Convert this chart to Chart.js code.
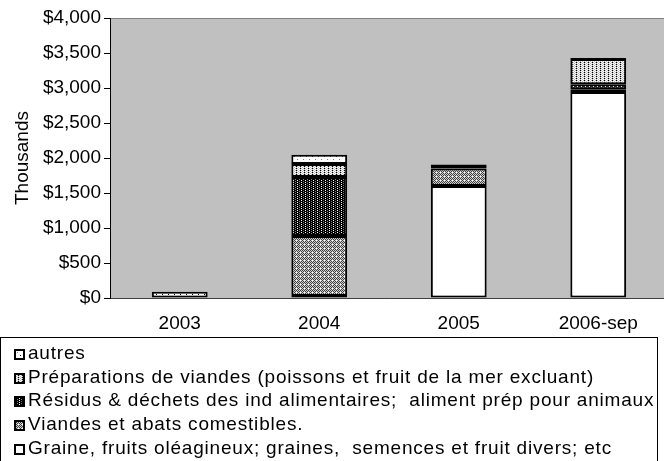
<!DOCTYPE html>
<html>
<head>
<meta charset="utf-8">
<script src="https://cdn.jsdelivr.net/npm/chart.js@4/dist/chart.umd.min.js"></script>
<style>
    body { margin: 0; background: #fff; }
    #wrap { position: relative; width: 664px; height: 461px; overflow: hidden; font-family: "Liberation Sans", Arial, sans-serif; }
    #chart { position: absolute; left: 0; top: 0; }
    #legend { position: absolute; left: 0; top: 337px; width: 658px; height: 140px; border: 1px solid #000; box-sizing: border-box; padding-top: 3px; }
    .item { height: 23.7px; line-height: 23.7px; font-size: 19px; letter-spacing: 0.8px; white-space: pre; color: #000; }
    .item canvas { vertical-align: -1px; margin-left: 13px; margin-right: 3px; }
</style>
</head>
<body>
<div id="wrap">
    <canvas id="chart" width="668" height="461"></canvas>
    <div id="legend"></div>
</div>
<script>
// categories
var years = ['2003', '2004', '2005', '2006-sep'];

// series values (thousands of $)
var graine = [0, 30, 1600, 2943];
var viandes = [0, 857, 250, 40];
var residus = [0, 843, 0, 70];
var preparations = [0, 186, 0, 360];
var autres = [90, 129, 57, 15];

var seriesNames = [
    'Graine, fruits oléagineux; graines,  semences et fruit divers; etc',
    'Viandes et abats comestibles.',
    'Résidus & déchets des ind alimentaires;  aliment prép pour animaux',
    'Préparations de viandes (poissons et fruit de la mer excluant)',
    'autres'
];

// y axis ticks
var yMax = 4000;
var yStep = 500;

// small pixel tiles to imitate the old hatch fills
function makeTile(size, fn) {
    var c = document.createElement('canvas');
    c.width = size; c.height = size;
    var g = c.getContext('2d');
    for (var y = 0; y < size; y++) {
        for (var x = 0; x < size; x++) {
            g.fillStyle = fn(x, y);
            g.fillRect(x, y, 1, 1);
        }
    }
    return c;
}

var tiles = [
    makeTile(4, function() { return '#ffffff'; }),
    makeTile(4, function(x, y) {
        if (x % 4 == 0 && y % 4 == 0) return '#ffffff';
        return (x + y) % 2 == 0 ? '#404040' : '#d0d0d0';
    }),
    makeTile(4, function(x, y) {
        if (x % 4 == 1 && y % 2 == 0) return '#ffffff';
        if (x % 4 == 3 && y % 2 == 1) return '#808080';
        return '#000000';
    }),
    makeTile(4, function(x, y) {
        if (x % 4 == 0 && y % 2 == 0) return '#000000';
        if ((x + y) % 2 == 1) return '#c0c0c0';
        return '#ffffff';
    }),
    makeTile(6, function(x, y) {
        if (x % 6 == 0 && y % 6 == 0) return '#000000';
        if (x % 6 == 3 && y % 6 == 3) return '#808080';
        return '#ffffff';
    })
];

var ctx = document.getElementById('chart').getContext('2d');
var patterns = tiles.map(function(t) { return ctx.createPattern(t, 'repeat'); });

var allValues = [graine, viandes, residus, preparations, autres];
var datasets = allValues.map(function(vals, i) {
    return {
        label: seriesNames[i],
        data: vals,
        backgroundColor: patterns[i],
        borderColor: '#000000',
        borderWidth: 2,
        borderSkipped: false,
        categoryPercentage: 0.4,
        barPercentage: 1
    };
});

// grey plot background
var plotBg = {
    id: 'plotBg',
    beforeDraw: function(chart) {
        var a = chart.chartArea;
        var c = chart.ctx;
        c.save();
        c.fillStyle = '#c0c0c0';
        c.fillRect(a.left, a.top, a.right - a.left, a.bottom - a.top);
        c.strokeStyle = '#808080';
        c.lineWidth = 1;
        c.strokeRect(a.left + 0.5, a.top + 0.5, a.right - a.left, a.bottom - a.top);
        c.restore();
    }
};

Chart.defaults.font.family = '"Liberation Sans", Arial, sans-serif';
Chart.defaults.color = '#000';

var chart = new Chart(ctx, {
    type: 'bar',
    data: { labels: years, datasets: datasets },
    options: {
        responsive: false,
        animation: false,
        devicePixelRatio: 1,
        layout: { padding: { top: 18, right: 0, bottom: 123, left: 0 } },
        plugins: {
            legend: { display: false },
            tooltip: { enabled: false }
        },
        scales: {
            x: {
                stacked: true,
                grid: { display: false },
                border: { display: true, color: '#404040' },
                ticks: { font: { size: 19 }, padding: 6, maxRotation: 0 },
                afterFit: function(s) { s.height = 40; }
            },
            y: {
                stacked: true,
                min: 0,
                max: yMax,
                ticks: {
                    stepSize: yStep,
                    font: { size: 19 },
                    padding: 3,
                    callback: function(v) { return '$' + v.toLocaleString('en-US'); }
                },
                grid: { drawOnChartArea: false, drawTicks: true, tickLength: 6, color: '#000' },
                border: { display: true, color: '#000' },
                title: { display: true, text: 'Thousands', font: { size: 19 }, padding: { top: 11, bottom: 0 } },
                afterFit: function(s) { s.width = 110; }
            }
        }
    },
    plugins: [plotBg]
});

// legend, last series on top like the original
var legend = document.getElementById('legend');
for (var i = datasets.length - 1; i >= 0; i--) {
    var row = document.createElement('div');
    row.className = 'item';
    var icon = document.createElement('canvas');
    icon.width = 11; icon.height = 11;
    var ic = icon.getContext('2d');
    ic.fillStyle = ic.createPattern(tiles[i], 'repeat');
    ic.fillRect(0, 0, 11, 11);
    ic.strokeStyle = '#000';
    ic.lineWidth = 2;
    ic.strokeRect(1, 1, 9, 9);
    row.appendChild(icon);
    row.appendChild(document.createTextNode(datasets[i].label));
    legend.appendChild(row);
}
</script>
</body>
</html>
